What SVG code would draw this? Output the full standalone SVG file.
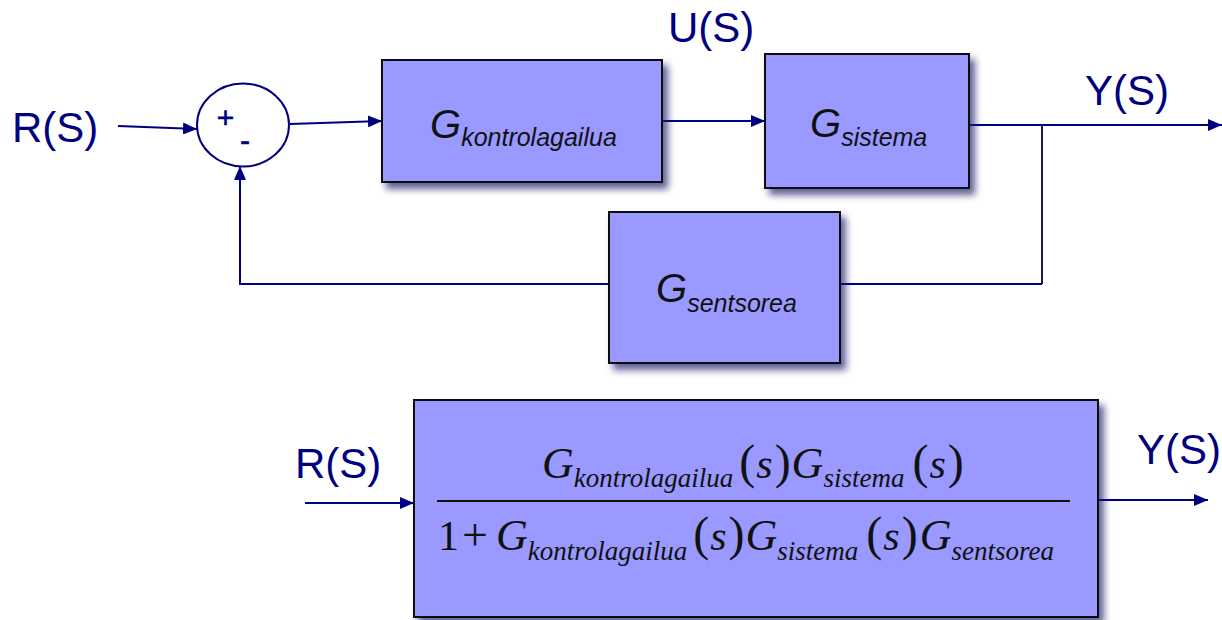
<svg xmlns="http://www.w3.org/2000/svg" width="1222" height="620" viewBox="0 0 1222 620">
  <style>
    .block { fill: #9999ff; stroke: #111111; stroke-width: 2; filter: url(#shade); }
    .wire { fill: none; stroke: #000080; stroke-width: 2; }
    .sig { font-family: "Liberation Sans", Arial, sans-serif; font-size: 42px; fill: #000080; }
    .gname { font-family: "Liberation Sans", Arial, sans-serif; font-style: italic; fill: #111111; }
    .gmain { font-size: 40px; }
    .gsub { font-size: 25px; }
    .math { font-family: "Liberation Serif", "Times New Roman", serif; font-size: 42px; fill: #111111; }
    .it { font-style: italic; }
    .mg { font-size: 44px; font-style: italic; }
    .msub { font-size: 27px; font-style: italic; }
    .par { font-size: 48px; }
    .op { font-size: 46px; }
    .sign { font-family: "Liberation Sans", Arial, sans-serif; font-size: 30px; fill: #000080; stroke: #000080; stroke-width: 0.6; }
  </style>
  <defs>
    <filter id="shade" x="-10%" y="-10%" width="125%" height="130%">
      <feDropShadow dx="5" dy="6" stdDeviation="3.5" flood-color="#1c1c6a" flood-opacity="0.7"/>
    </filter>
    <marker id="arrow" viewBox="0 0 14 12" refX="14" refY="6" markerWidth="14" markerHeight="12" markerUnits="userSpaceOnUse" orient="auto">
      <path d="M0,0 L14,6 L0,12 Z" fill="#000080"/>
    </marker>
  </defs>

  <!-- signal lines -->
  <g id="connectors">
    <path class="wire" d="M118,126 L197,129" marker-end="url(#arrow)"/>
    <path class="wire" d="M290,124 L382,121" marker-end="url(#arrow)"/>
    <path class="wire" d="M662,121 L765,121" marker-end="url(#arrow)"/>
    <path class="wire" d="M969,125 L1222,125" marker-end="url(#arrow)"/>
    <path class="wire" d="M1042,125 L1042,284" style="stroke:#1a1a50"/>
    <path class="wire" d="M1042,284 L840,284"/>
    <path class="wire" d="M609,284 L240,284 L240,166" marker-end="url(#arrow)"/>
    <path class="wire" d="M305,503 L414,503" marker-end="url(#arrow)"/>
    <path class="wire" d="M1098,500 L1208,500" marker-end="url(#arrow)"/>
  </g>

  <!-- summing junction -->
  <g id="sum">
    <ellipse cx="243" cy="125" rx="46" ry="41.5" fill="#ffffff" stroke="#000080" stroke-width="2"/>
    <text class="sign" x="225.5" y="128" text-anchor="middle">+</text>
    <text class="sign" x="245" y="151" text-anchor="middle">-</text>
  </g>

  <g id="controller">
    <rect class="block" x="382" y="60" width="280" height="122"/>
    <text class="gname" x="430" y="138"><tspan class="gmain">G</tspan><tspan class="gsub" dy="8">kontrolagailua</tspan></text>
  </g>

  <g id="plant">
    <rect class="block" x="765" y="54" width="204" height="134"/>
    <text class="gname" x="810" y="137"><tspan class="gmain">G</tspan><tspan class="gsub" dy="9">sistema</tspan></text>
  </g>

  <g id="sensor">
    <rect class="block" x="609" y="212" width="231" height="151"/>
    <text class="gname" x="656" y="302"><tspan class="gmain">G</tspan><tspan class="gsub" dy="10">sentsorea</tspan></text>
  </g>

  <g id="closed-loop">
    <rect class="block" x="414" y="400" width="684" height="217"/>
    <line x1="437" y1="501" x2="1070" y2="501" stroke="#111111" stroke-width="2"/>
    <text class="math" x="542" y="478"><tspan class="mg">G</tspan><tspan class="msub" dy="9">kontrolagailua</tspan><tspan class="par" dy="-9" dx="6">(</tspan><tspan class="it" dx="1">s</tspan><tspan class="par" dx="2">)</tspan><tspan class="mg" dx="1">G</tspan><tspan class="msub" dy="9">sistema</tspan><tspan class="par" dy="-9" dx="8">(</tspan><tspan class="it" dx="1">s</tspan><tspan class="par" dx="2">)</tspan></text>
    <text class="math" x="438" y="550"><tspan>1</tspan><tspan class="op" dx="3">+</tspan><tspan class="mg" dx="8">G</tspan><tspan class="msub" dy="10">kontrolagailua</tspan><tspan class="par" dy="-10" dx="6">(</tspan><tspan class="it" dx="1">s</tspan><tspan class="par" dx="2">)</tspan><tspan class="mg" dx="1">G</tspan><tspan class="msub" dy="10">sistema</tspan><tspan class="par" dy="-10" dx="8">(</tspan><tspan class="it" dx="1">s</tspan><tspan class="par" dx="2">)</tspan><tspan class="mg" dx="2">G</tspan><tspan class="msub" dy="10">sentsorea</tspan></text>
  </g>

  <g id="labels">
    <text class="sig" x="12" y="142">R(S)</text>
    <text class="sig" x="668" y="42">U(S)</text>
    <text class="sig" x="1085" y="105">Y(S)</text>
    <text class="sig" x="295" y="478">R(S)</text>
    <text class="sig" x="1137" y="464">Y(S)</text>
  </g>
</svg>
